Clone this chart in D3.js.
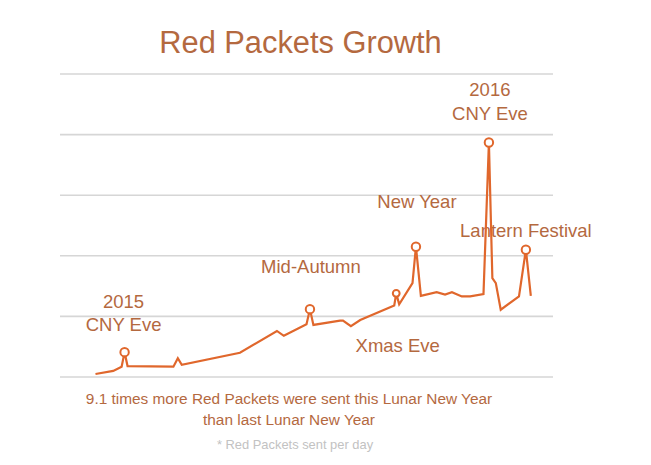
<!DOCTYPE html>
<html>
<head>
<meta charset="utf-8">
<script src="https://cdn.jsdelivr.net/npm/d3@7"></script>
<style>
  html, body { margin: 0; padding: 0; background: #fff; }
  text { font-family: "Helvetica Neue", "Liberation Sans", Arial, sans-serif; }
</style>
</head>
<body>
<div id="chart"></div>
<script>
// position along the year (arbitrary 0-100) and packets per day (gridline units)
var xs = [7.2, 10.8, 12.5, 13.1, 13.7, 23.0, 23.9, 24.7, 36.5, 44.0, 45.4, 50.0, 50.7, 51.4,
          56.8, 57.4, 59.0, 60.9, 67.8, 68.2, 68.8, 71.5, 72.2, 73.2, 76.4, 78.1, 79.5,
          81.5, 83.2, 85.9, 87.0, 87.7, 88.4, 89.4, 93.1, 94.5, 95.5];
var values = [0.05, 0.10, 0.17, 0.41, 0.18, 0.17, 0.31, 0.20, 0.40, 0.76, 0.68, 0.87, 1.12, 0.86,
              0.93, 0.93, 0.84, 0.94, 1.18, 1.38, 1.20, 1.55, 2.15, 1.34, 1.40, 1.36, 1.40,
              1.33, 1.33, 1.37, 3.87, 1.63, 1.55, 1.11, 1.33, 2.10, 1.34];
var gridTicks = [0, 1, 2, 3, 4, 5];

// highlighted days
var peakIndex = [3, 12, 19, 22, 30, 35];
var peakLabels = [["2015", "CNY Eve"], ["Mid-Autumn"], ["Xmas Eve"], ["New Year"],
                  ["2016", "CNY Eve"], ["Lantern Festival"]];

var title = "Red Packets Growth";
var notes = ["9.1 times more Red Packets were sent this Lunar New Year", "than last Lunar New Year"];
var footnote = "* Red Packets sent per day";

var width = 651, height = 465;
var lineColor = "#e0672c", textColor = "#b4693f";

var svg = d3.select("#chart").append("svg")
    .attr("width", width)
    .attr("height", height);

var x = d3.scaleLinear().domain([0, 100]).range([60, 553]);
var y = d3.scaleLinear().domain([0, 5]).range([377, 74]);

// gridlines
svg.append("g")
  .selectAll("line")
  .data(gridTicks)
  .enter()
  .append("line")
  .attr("x1", x(0))
  .attr("x2", x(100))
  .attr("y1", d => y(d))
  .attr("y2", d => y(d))
  .style("stroke", "#d6d6d6")
  .style("stroke-width", 1.6);

svg.append("text")
  .attr("x", 300.5)
  .attr("y", 53)
  .attr("text-anchor", "middle")
  .style("font-size", "30.8px")
  .style("font-weight", 300)
  .style("fill", textColor)
  .text(title);

// label offsets from the marked point (dx, dy of last line)
var labelOffset = [[-1, -21], [1, -36], [1.5, 58.6], [1, -38.7], [1, -22.5], [0, -12.7]];

peakIndex.forEach(function(pi, k) {
  var lines = peakLabels[k];
  var t = svg.append("text")
    .attr("text-anchor", "middle")
    .style("font-size", "18.5px")
    .style("font-weight", 300)
    .style("fill", textColor);
  lines.forEach(function(s, j) {
    t.append("tspan")
      .attr("x", x(xs[pi]) + labelOffset[k][0])
      .attr("y", y(values[pi]) + labelOffset[k][1] - (lines.length - 1 - j) * 23.5)
      .text(s);
  });
});

var line = d3.line()
  .x((d, i) => x(xs[i]))
  .y(d => y(d));

svg.append("path")
  .datum(values)
  .attr("d", line)
  .style("fill", "none")
  .style("stroke", lineColor)
  .style("stroke-width", 2.2)
  .style("stroke-linejoin", "miter");

svg.append("g")
  .selectAll("circle")
  .data(peakIndex)
  .enter()
  .append("circle")
  .attr("cx", d => x(xs[d]))
  .attr("cy", d => y(values[d]))
  .attr("r", (d, i) => i == 2 ? 3.4 : 4.2)
  .style("fill", "#fff")
  .style("stroke", lineColor)
  .style("stroke-width", 2);

svg.append("g")
  .selectAll("text")
  .data(notes)
  .enter()
  .append("text")
  .attr("x", 289)
  .attr("y", (d, i) => 404 + i * 20.5)
  .attr("text-anchor", "middle")
  .style("font-size", "15.4px")
  .style("font-weight", 300)
  .style("fill", textColor)
  .text(d => d);

svg.append("text")
  .attr("x", 295)
  .attr("y", 449)
  .attr("text-anchor", "middle")
  .style("font-size", "12.9px")
  .style("font-weight", 300)
  .style("fill", "#c2c2c2")
  .text(footnote);
</script>
</body>
</html>
